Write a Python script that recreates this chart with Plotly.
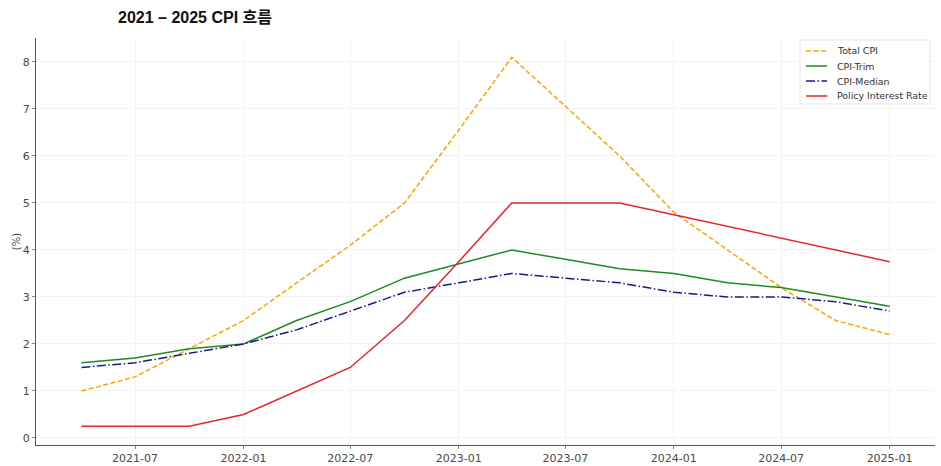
import plotly.graph_objects as go

dates = ["2021-04-01", "2021-07-01", "2021-10-01", "2022-01-01", "2022-04-01", "2022-07-01",
         "2022-10-01", "2023-01-01", "2023-04-01", "2023-07-01", "2023-10-01", "2024-01-01",
         "2024-04-01", "2024-07-01", "2024-10-01", "2025-01-01"]
total_cpi = [1.0, 1.3, 1.9, 2.5, 3.3, 4.1, 5.0, 6.55, 8.1, 7.05, 6.0, 4.8, 4.0, 3.2, 2.5, 2.2]
cpi_trim = [1.6, 1.7, 1.9, 2.0, 2.5, 2.9, 3.4, 3.7, 4.0, 3.8, 3.6, 3.5, 3.3, 3.2, 3.0, 2.8]
cpi_median = [1.5, 1.6, 1.8, 2.0, 2.3, 2.7, 3.1, 3.3, 3.5, 3.4, 3.3, 3.1, 3.0, 3.0, 2.9, 2.7]
policy_rate = [0.25, 0.25, 0.25, 0.5, 1.0, 1.5, 2.5, 3.75, 5.0, 5.0, 5.0, 4.75, 4.5, 4.25, 4.0, 3.75]

series_names = ["Total CPI", "CPI-Trim", "CPI-Median", "Policy Interest Rate"]
series_values = [total_cpi, cpi_trim, cpi_median, policy_rate]
series_colors = ["#FFA500", "#1f8a1f", "#1a1a8c", "#e8262a"]
series_dash = ["5px,2.5px", "solid", "9px,2.5px,1.5px,2.5px", "solid"]

x_ticks = ["2021-07-01", "2022-01-01", "2022-07-01", "2023-01-01", "2023-07-01",
           "2024-01-01", "2024-07-01", "2025-01-01"]
x_tick_labels = ["2021-07", "2022-01", "2022-07", "2023-01", "2023-07", "2024-01", "2024-07", "2025-01"]
y_ticks = [0, 1, 2, 3, 4, 5, 6, 7, 8]

W, H = 941, 466
ML, MR, MT, MB = 36, 6, 38, 21
PW, PH = W - ML - MR, H - MT - MB


def px_x(p):
    return (p - ML) / PW


def px_y(p):
    return (H - MB - p) / PH


fig = go.Figure()
for name, vals, col, dash in zip(series_names, series_values, series_colors, series_dash):
    fig.add_trace(go.Scatter(x=dates, y=vals, mode="lines", name=name, showlegend=False,
                             line=dict(color=col, width=1.5, dash=dash)))

# custom legend (matplotlib-like compact spacing)
shapes = [dict(type="rect", xref="paper", yref="paper",
               x0=px_x(800), x1=px_x(930), y0=px_y(104), y1=px_y(40),
               line=dict(color="#e3e3e3", width=1), fillcolor="rgba(255,255,255,0.85)", layer="above")]
annotations = []
for i, (name, col, dash) in enumerate(zip(series_names, series_colors, series_dash)):
    yy = px_y(51 + 15 * i)
    shapes.append(dict(type="line", xref="paper", yref="paper",
                       x0=px_x(806), x1=px_x(827), y0=yy, y1=yy,
                       line=dict(color=col, width=1.5, dash=dash), layer="above"))
    annotations.append(dict(text=name, xref="paper", yref="paper", x=px_x(835), y=yy,
                            xanchor="left", yanchor="middle", showarrow=False,
                            font=dict(family="DejaVu Sans", size=9.4, color="#333")))

fig.update_layout(
    width=W, height=H,
    margin=dict(l=ML, r=MR, t=MT, b=MB),
    paper_bgcolor="white", plot_bgcolor="white",
    title=dict(text="<b>2021 – 2025 CPI 흐름</b>", x=118 / W, xanchor="left", y=0.962, yanchor="middle",
               font=dict(family="Liberation Sans, Arial, Noto Sans CJK KR", size=16, color="#111")),
    font=dict(family="DejaVu Sans", size=11, color="#444"),
    showlegend=False,
    shapes=shapes,
    annotations=annotations,
)
fig.update_xaxes(
    range=["2021-01-14", "2025-03-19"],
    tickvals=x_ticks, ticktext=x_tick_labels,
    showgrid=True, gridcolor="#f3f3f3", gridwidth=1,
    showline=True, linecolor="#555", linewidth=1,
    ticks="outside", ticklen=3, tickcolor="#888",
    zeroline=False, tickfont=dict(size=11, color="#4a4a4a"), automargin=False,
)
fig.update_yaxes(
    range=[-0.15, 8.51],
    tickvals=y_ticks,
    showgrid=True, gridcolor="#f3f3f3", gridwidth=1,
    showline=True, linecolor="#555", linewidth=1,
    ticks="outside", ticklen=3, tickcolor="#888",
    zeroline=False, tickfont=dict(size=11, color="#4a4a4a"), automargin=False,
    title=dict(text="(%)", font=dict(size=10, color="#444"), standoff=0),
)

fig.write_html("out.html", config={"displayModeBar": False},
               post_script="document.body.style.margin='0';document.body.style.padding='0';")
